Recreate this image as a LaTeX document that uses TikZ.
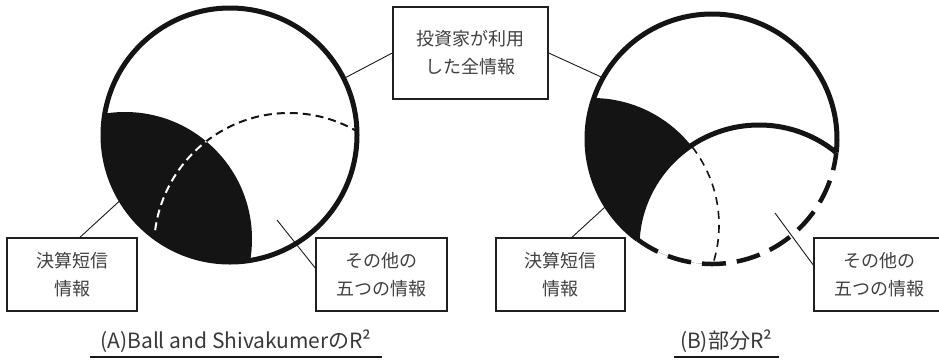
\documentclass[tikz,border=0pt]{standalone}
\usepackage{fontspec}
\setmainfont{Noto Sans CJK JP}
\usetikzlibrary{calc}
\begin{document}
\begin{tikzpicture}[x=1pt,y=-1pt,
  lbl/.style={draw=black!88, line width=1.5pt, fill=white, align=center, inner sep=0pt,
    text=black!75, font=\fontsize{18}{28}\selectfont, minimum height=73pt},
  lead/.style={line width=0.9pt, black!90},
  captxt/.style={anchor=base, inner sep=0pt, text=black!78, font=\fontsize{21}{24}\selectfont},
  uline/.style={line width=2.5pt, black!90},
  bigring/.style={line width=5pt, black!92},
]
\useasboundingbox (0,0) rectangle (939,360);

% ---------------- Panel A ----------------
\coordinate (CA) at (230,135);
\coordinate (KA) at (125,239);
\coordinate (OA) at (289,248);
\begin{scope}
  \clip (CA) circle[radius=127];
  \fill[black!92] (KA) circle[radius=127];
  \draw[line width=2pt, black!92, dash pattern=on 8pt off 5pt] (OA) circle[radius=135];
  \clip (KA) circle[radius=127];
  \draw[line width=2pt, white, dash pattern=on 8pt off 5pt] (OA) circle[radius=135];
\end{scope}
\draw[bigring] (CA) circle[radius=127];

% ---------------- Panel B ----------------
\coordinate (CB) at (712,139);
\coordinate (KB) at (592,225);
\coordinate (OB) at (759,247);
\begin{scope}
  \clip (CB) circle[radius=125];
  \fill[black!92] (KB) circle[radius=127];
  \fill[white] (OB) circle[radius=122];
  \begin{scope}
    \clip (OB) circle[radius=122];
    \draw[line width=1.6pt, black!92, dash pattern=on 8pt off 6pt] (KB) circle[radius=127];
  \end{scope}
  \draw[bigring] (OB) circle[radius=122];
\end{scope}
\draw[bigring] (CB) ++(126.7:125) arc[start angle=126.7, end angle=366.2, radius=125];
\draw[line width=4.5pt, black!92, dash pattern=on 24pt off 11pt]
  (CB) ++(126.7:125) arc[start angle=126.7, end angle=6.2, radius=125];

% ---------------- leader end points ----------------
\coordinate (pA0) at ($(CA)+(-26.4:127)$);
\coordinate (pA1) at ($(CA)+(149.3:127)$);
\coordinate (pA2) at (277,220);
\coordinate (pB0) at ($(CB)+(209.3:125)$);
\coordinate (pB1) at ($(CB)+(147.7:125)$);
\coordinate (pB2) at (775,213);

% ---------------- boxes ----------------
\node[lbl, minimum width=155pt, minimum height=92pt] (top) at (470.5,53) {投資家が利用\\した全情報};
\node[lbl, minimum width=130pt] (kA) at (72,274.5) {決算短信\\情報};
\node[lbl, minimum width=131pt] (oA) at (381.5,274.5) {その他の\\五つの情報};
\node[lbl, minimum width=129pt] (kB) at (560.5,274.5) {決算短信\\情報};
\node[lbl, minimum width=130pt] (oB) at (879,274.5) {その他の\\五つの情報};

% ---------------- leaders ----------------
\draw[lead] (top.west) -- (pA0);
\draw[lead] (top.east) -- (pB0);
\draw[lead] ([xshift=8pt]kA.north) -- (pA1);
\draw[lead] ([yshift=6.5pt]oA.west) -- (pA2);
\draw[lead] ([xshift=11.5pt]kB.north) -- (pB1);
\draw[lead] ([yshift=9.5pt]oB.west) -- (pB2);

% ---------------- captions ----------------
\node[captxt] (capA) at (236,348) {(A)Ball and ShivakumerのR²};
\node[captxt] (capB) at (726,348) {(B)部分R²};
\coordinate (uA1) at (90,357);  \coordinate (uA2) at (382,357);
\coordinate (uB1) at (674,357); \coordinate (uB2) at (779,357);
\draw[uline] (uA1) -- (uA2);
\draw[uline] (uB1) -- (uB2);
\end{tikzpicture}
\end{document}
